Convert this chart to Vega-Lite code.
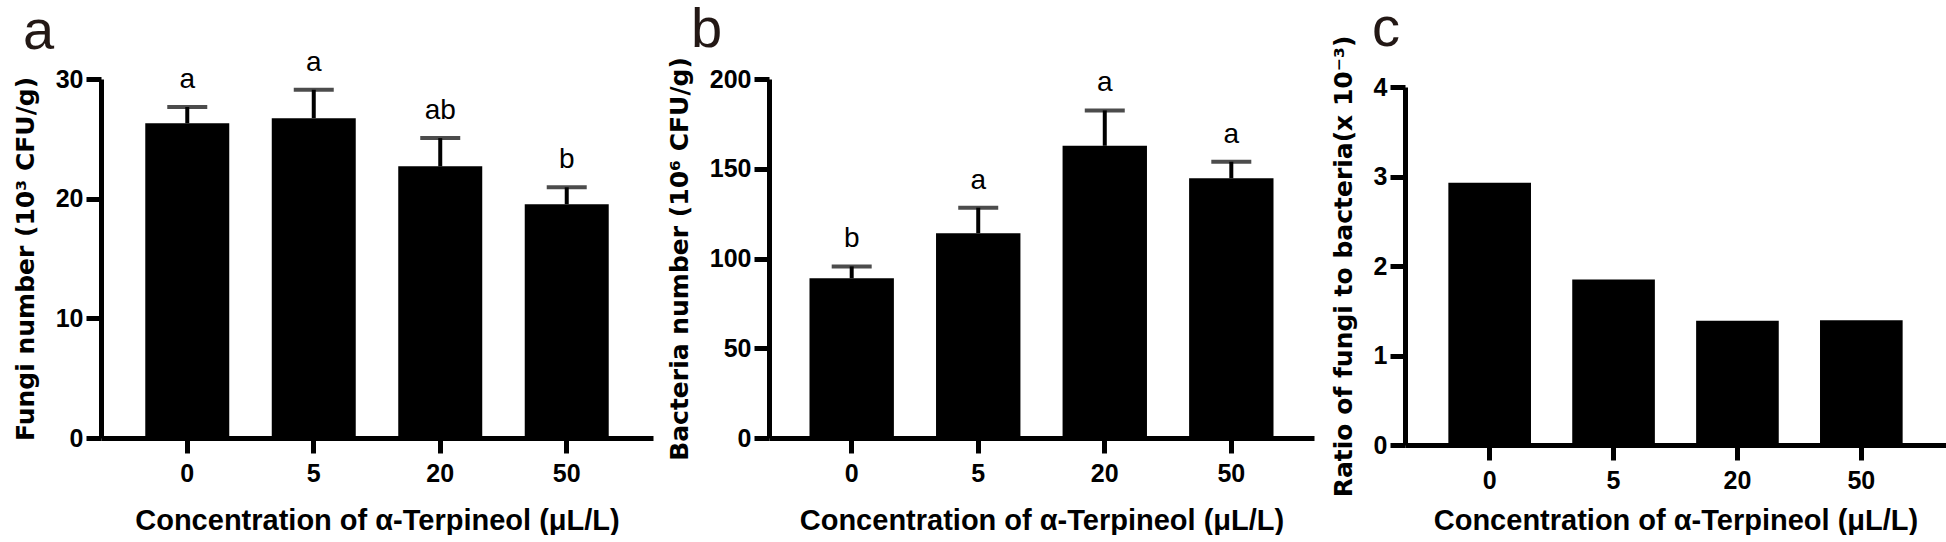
{
  "$schema": "https://vega.github.io/schema/vega-lite/v6.json",
  "background": "white",
  "padding": {"left": 13, "top": 0, "right": 0, "bottom": 0},
  "bounds": "flush",
  "spacing": 116,
  "config": {
    "view": {"stroke": null},
    "font": "Liberation Sans",
    "axis": {
      "grid": false,
      "domainColor": "black",
      "domainWidth": 5,
      "tickColor": "black",
      "tickWidth": 5,
      "tickSize": 15,
      "labelFont": "Liberation Sans",
      "labelFontSize": 25,
      "labelFontWeight": "bold",
      "labelColor": "black",
      "titleFont": "Liberation Sans",
      "titleFontSize": 29,
      "titleFontWeight": "bold",
      "titleColor": "black"
    },
    "axisX": {"labelAngle": 0, "labelPadding": 8, "titlePadding": 20},
    "axisY": {"labelPadding": 3, "titlePadding": 17, "titleFont": "DejaVu Sans", "titleFontSize": 25},
    "title": {"font": "Liberation Sans", "fontSize": 56, "fontWeight": "normal", "color": "#231815", "anchor": "start", "frame": "group", "baseline": "alphabetic", "offset": 36}
  },
  "hconcat": [
    {
      "width": 552,
      "height": 359,
      "title": {"text": "a", "dx": -78, "dy": 48},
      "data": {"values": [
        {"conc": "0", "mean": 26.3, "upper": 27.66, "letter": "a"},
        {"conc": "5", "mean": 26.73, "upper": 29.1, "letter": "a"},
        {"conc": "20", "mean": 22.7, "upper": 25.06, "letter": "ab"},
        {"conc": "50", "mean": 19.54, "upper": 20.95, "letter": "b"}
      ]},
      "encoding": {
        "x": {"field": "conc", "type": "ordinal", "sort": ["0", "5", "20", "50"], "scale": {"paddingInner": 0.336, "paddingOuter": 0.35}, "title": "Concentration of α-Terpineol (μL/L)"}
      },
      "layer": [
        {"mark": {"type": "bar", "color": "black"}, "encoding": {"y": {"field": "mean", "type": "quantitative", "scale": {"domain": [0, 30]}, "axis": {"values": [0, 10, 20, 30]}, "title": "Fungi number (10³ CFU/g)"}}},
        {"mark": {"type": "rule", "color": "black", "strokeWidth": 4}, "encoding": {"y": {"field": "mean", "type": "quantitative", "title": "Fungi number (10³ CFU/g)"}, "y2": {"field": "upper"}}},
        {"mark": {"type": "tick", "color": "black", "size": 40, "thickness": 4}, "encoding": {"y": {"field": "upper", "type": "quantitative", "title": "Fungi number (10³ CFU/g)"}}},
        {"mark": {"type": "text", "dy": -19, "baseline": "alphabetic", "fontSize": 28, "font": "Liberation Sans", "color": "black"}, "encoding": {"y": {"field": "upper", "type": "quantitative", "title": "Fungi number (10³ CFU/g)"}, "text": {"field": "letter"}}}
      ]
    },
    {
      "bounds": "flush",
      "spacing": 91,
      "hconcat": [
        {
          "width": 545,
          "height": 359,
          "title": {"text": "b", "dx": -78, "dy": 38},
          "data": {"values": [
            {"conc": "0", "mean": 89.0, "upper": 95.6, "letter": "b"},
            {"conc": "5", "mean": 114.1, "upper": 128.3, "letter": "a"},
            {"conc": "20", "mean": 162.8, "upper": 182.5, "letter": "a"},
            {"conc": "50", "mean": 144.7, "upper": 153.9, "letter": "a"}
          ]},
          "encoding": {
            "x": {"field": "conc", "type": "ordinal", "sort": ["0", "5", "20", "50"], "scale": {"paddingInner": 0.333, "paddingOuter": 0.32}, "title": "Concentration of α-Terpineol (μL/L)"}
          },
          "layer": [
            {"mark": {"type": "bar", "color": "black"}, "encoding": {"y": {"field": "mean", "type": "quantitative", "scale": {"domain": [0, 200]}, "axis": {"values": [0, 50, 100, 150, 200]}, "title": "Bacteria number (10⁶ CFU/g)"}}},
            {"mark": {"type": "rule", "color": "black", "strokeWidth": 4}, "encoding": {"y": {"field": "mean", "type": "quantitative", "title": "Bacteria number (10⁶ CFU/g)"}, "y2": {"field": "upper"}}},
            {"mark": {"type": "tick", "color": "black", "size": 40, "thickness": 4}, "encoding": {"y": {"field": "upper", "type": "quantitative", "title": "Bacteria number (10⁶ CFU/g)"}}},
            {"mark": {"type": "text", "dy": -19, "baseline": "alphabetic", "fontSize": 28, "font": "Liberation Sans", "color": "black"}, "encoding": {"y": {"field": "upper", "type": "quantitative", "title": "Bacteria number (10⁶ CFU/g)"}, "text": {"field": "letter"}}}
          ]
        },
        {
          "width": 541,
          "height": 366,
          "title": {"text": "c", "dx": -33, "dy": 58.5},
          "data": {"values": [
            {"conc": "0", "ratio": 2.93},
            {"conc": "5", "ratio": 1.85},
            {"conc": "20", "ratio": 1.387},
            {"conc": "50", "ratio": 1.395}
          ]},
          "mark": {"type": "bar", "color": "black"},
          "encoding": {
            "x": {"field": "conc", "type": "ordinal", "sort": ["0", "5", "20", "50"], "scale": {"paddingInner": 0.333, "paddingOuter": 0.35}, "axis": {"titlePadding": 13}, "title": "Concentration of α-Terpineol (μL/L)"},
            "y": {"field": "ratio", "type": "quantitative", "scale": {"domain": [0, 4], "range": [366, 8]}, "axis": {"values": [0, 1, 2, 3, 4]}, "title": "Ratio of fungi to bacteria(x 10⁻³)"}
          }
        }
      ]
    }
  ]
}
